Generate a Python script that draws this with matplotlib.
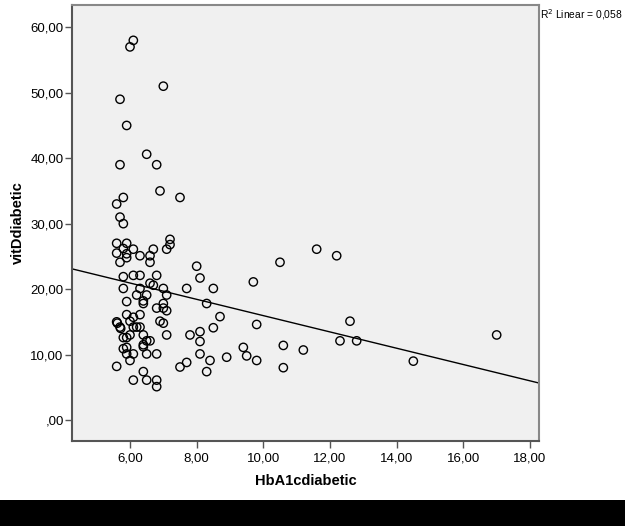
import matplotlib
matplotlib.use("Agg")
import matplotlib.pyplot as plt
import numpy as np
from matplotlib.patches import Rectangle

plt.rcParams['font.family'] = ['Liberation Sans', 'DejaVu Sans']

# HbA1c (x) and vitamin D (y) for diabetic patients
hba1c = [6.1, 6.0, 7.0, 5.7, 5.9, 6.5, 5.7, 6.8, 6.9, 7.5, 5.8, 5.6, 5.7, 5.8,
         5.6, 5.9, 5.8, 6.1, 6.7, 7.1, 7.2, 7.2, 5.6, 5.9, 5.9, 5.7, 6.3, 6.6, 6.6, 8.0, 8.1,
         5.8, 6.1, 6.3, 6.8, 6.6, 6.7, 7.0, 6.3, 5.8, 7.1, 6.5, 6.2, 6.4, 6.4, 5.9, 7.0,
         6.8, 7.0, 7.1, 5.9, 6.1, 6.3, 7.7,
         5.6, 5.62, 6.0, 6.9, 7.0, 5.7, 5.72, 6.1, 6.2, 6.3,
         5.8, 5.9, 6.0, 6.4, 6.5, 6.6, 6.4, 6.4, 7.1, 7.8, 8.1, 8.1, 8.1,
         5.8, 5.9, 5.9, 6.1, 6.5, 6.8, 6.0, 5.6, 7.5, 7.7, 6.4, 6.1, 6.5, 6.8, 6.8,
         8.5, 8.3, 8.7, 8.5, 8.4, 8.9, 8.3, 9.4, 9.5, 9.8, 9.8, 9.7, 10.5, 10.6, 10.6,
         11.6, 12.2, 12.6, 12.3, 12.8, 11.2, 17.0, 14.5]
vitd = [58.0, 57.0, 51.0, 49.0, 45.0, 40.6, 39.0, 39.0, 35.0, 34.0, 34.0, 33.0, 31.0, 30.0,
        27.0, 27.0, 26.2, 26.1, 26.1, 26.1, 27.6, 26.8, 25.5, 25.4, 24.8, 24.1, 25.1, 25.1, 24.1, 23.5, 21.7,
        21.9, 22.1, 22.1, 22.1, 20.9, 20.6, 20.1, 20.1, 20.1, 19.1, 19.1, 19.1, 18.2, 17.8, 18.1, 17.8,
        17.1, 17.1, 16.7, 16.1, 15.7, 16.1, 20.1,
        15.0, 14.8, 15.1, 15.1, 14.8, 14.2, 14.0, 14.2, 14.2, 14.2,
        12.6, 12.6, 13.0, 13.0, 12.1, 12.1, 11.5, 11.2, 13.0, 13.0, 13.5, 12.0, 10.1,
        10.9, 11.1, 10.1, 10.1, 10.1, 10.1, 9.1, 8.2, 8.1, 8.8, 7.4, 6.1, 6.1, 6.1, 5.1,
        20.1, 17.8, 15.8, 14.1, 9.1, 9.6, 7.4, 11.1, 9.8, 9.1, 14.6, 21.1, 24.1, 11.4, 8.0,
        26.1, 25.1, 15.1, 12.1, 12.1, 10.7, 13.0, 9.0]

# linear fit line as shown in the chart
fit_intercept = 28.4
fit_slope = -1.245
r_squared_label = "0,058"

x_ticks = [6, 8, 10, 12, 14, 16, 18]
y_ticks = [0, 10, 20, 30, 40, 50, 60]


def comma_fmt(v):
    s = "{:.2f}".format(v).replace('.', ',')
    if s.startswith('0,'):
        s = s[1:]
    return s


fig = plt.figure(figsize=(6.25, 5.26), dpi=100)
ax = fig.add_axes([0.1152, 0.1616, 0.7472, 0.8289])
ax.set_facecolor('#f0f0f0')

xlim = (4.26, 18.27)
ylim = (-3.2, 63.4)

ax.scatter(hba1c, vitd, s=36, facecolors='none', edgecolors='black', linewidths=1.0, zorder=3)

xl = np.array(xlim)
ax.plot(xl, fit_intercept + fit_slope * xl, color='black', lw=1.0, zorder=2)

ax.set_xlim(*xlim)
ax.set_ylim(*ylim)
ax.set_xticks(x_ticks)
ax.set_yticks(y_ticks)
ax.set_xticklabels([comma_fmt(v) for v in x_ticks], fontsize=9.5)
ax.set_yticklabels([comma_fmt(v) for v in y_ticks], fontsize=9.5)
ax.tick_params(direction='out', length=5, width=1, color='#555555')
ax.tick_params(axis='y', pad=1)
ax.tick_params(axis='x', pad=3)

for side in ['top', 'right']:
    ax.spines[side].set_color('#888888')
    ax.spines[side].set_linewidth(1.5)
for side in ['left', 'bottom']:
    ax.spines[side].set_color('#555555')
    ax.spines[side].set_linewidth(1.5)

ax.set_xlabel('HbA1cdiabetic', fontsize=10.5, fontweight='bold', labelpad=7)
ax.set_ylabel('vitDdiabetic', fontsize=10.5, fontweight='bold', labelpad=4)

fig.text(0.864, 0.973, 'R$^2$ Linear = ' + r_squared_label,
         fontsize=7.4, ha='left', va='center')

# black strip along the bottom edge of the screenshot
fig.patches.append(Rectangle((0, 0), 1, 26 / 526, transform=fig.transFigure,
                             facecolor='black', edgecolor='none', zorder=0))

fig.savefig('out.png', dpi=100)
